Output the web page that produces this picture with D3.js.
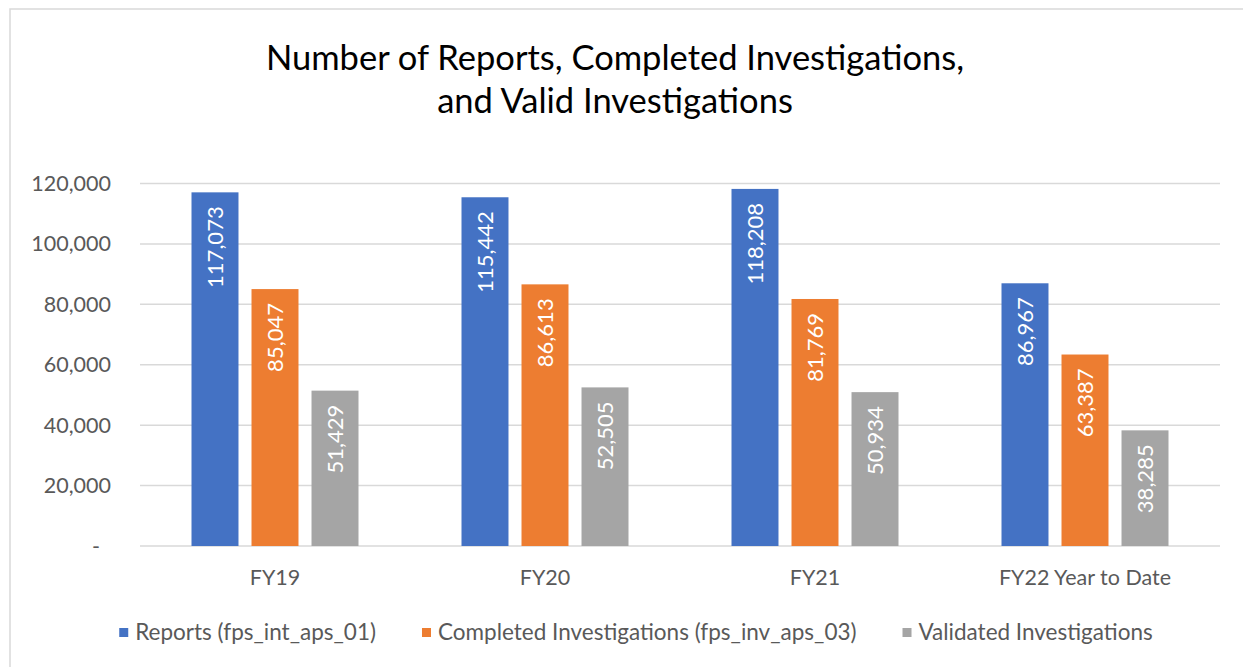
<!DOCTYPE html>
<html>
<head>
<meta charset="utf-8">
<script src="https://cdn.jsdelivr.net/npm/d3@7"></script>
<style>
  body { margin: 0; background: #fff; }
  text { font-family: Lato, "Open Sans", sans-serif; }
</style>
</head>
<body>
<script>
var categories = ["FY19", "FY20", "FY21", "FY22 Year to Date"];
var seriesNames = ["Reports (fps_int_aps_01)", "Completed Investigations (fps_inv_aps_03)", "Validated Investigations"];
var reports = [117073, 115442, 118208, 86967];
var completed = [85047, 86613, 81769, 63387];
var validated = [51429, 52505, 50934, 38285];
var yTicks = [0, 20000, 40000, 60000, 80000, 100000, 120000];
var colors = ["#4472C4", "#ED7D31", "#A5A5A5"];

var width = 1243, height = 667;
var plotLeft = 140, plotRight = 1220, plotTop = 183.5, plotBottom = 546;

var svg = d3.select("body").append("svg")
    .attr("width", width)
    .attr("height", height);

// chart border
svg.append("rect")
    .attr("x", 10).attr("y", 9)
    .attr("width", 1300).attr("height", 700)
    .attr("fill", "none")
    .attr("stroke", "#d9d9d9")
    .attr("stroke-width", 1.5);

// title
var title = svg.append("text")
    .attr("text-anchor", "middle")
    .attr("fill", "#000")
    .style("font-size", "34.5px");
title.append("tspan").attr("x", 615).attr("y", 70).text("Number of Reports, Completed Investigations,");
title.append("tspan").attr("x", 615).attr("y", 113).text("and Valid Investigations");

var x0 = d3.scaleBand().domain(categories).range([plotLeft, plotRight]);
var x1 = d3.scaleBand().domain(seriesNames)
    .range([51.5, x0.bandwidth() - 51.5])
    .paddingInner(0.217);
var y = d3.scaleLinear().domain([0, 120000]).range([plotBottom, plotTop]);

// gridlines
svg.append("g").selectAll("line")
    .data(yTicks)
    .enter().append("line")
    .attr("x1", plotLeft).attr("x2", plotRight)
    .attr("y1", function(d) { return y(d); })
    .attr("y2", function(d) { return y(d); })
    .attr("stroke", "#d9d9d9")
    .attr("stroke-width", 1.5);

// y labels
var fmt = d3.format(",");
svg.append("g").selectAll("text")
    .data(yTicks)
    .enter().append("text")
    .attr("x", function(d) { return d === 0 ? 100 : 111; })
    .attr("y", function(d) { return y(d); })
    .attr("dy", "0.35em")
    .attr("text-anchor", "end")
    .attr("fill", "#595959")
    .style("font-size", "21.5px")
    .text(function(d) { return d === 0 ? "-" : fmt(d); });

// x labels
svg.append("g").selectAll("text")
    .data(categories)
    .enter().append("text")
    .attr("x", function(d) { return x0(d) + x0.bandwidth() / 2; })
    .attr("y", 585)
    .attr("text-anchor", "middle")
    .attr("fill", "#595959")
    .style("font-size", "21.5px")
    .text(function(d) { return d; });

var allSeries = [reports, completed, validated];
var bars = [];
categories.forEach(function(c, i) {
    seriesNames.forEach(function(s, j) {
        bars.push({ cat: c, series: s, idx: j, value: allSeries[j][i] });
    });
});

svg.append("g").selectAll("rect")
    .data(bars)
    .enter().append("rect")
    .attr("x", function(d) { return x0(d.cat) + x1(d.series); })
    .attr("y", function(d) { return y(d.value); })
    .attr("width", x1.bandwidth())
    .attr("height", function(d) { return y(0) - y(d.value); })
    .attr("fill", function(d) { return colors[d.idx]; });

// data labels
svg.append("g").selectAll("text")
    .data(bars)
    .enter().append("text")
    .attr("transform", function(d) {
        var cx = x0(d.cat) + x1(d.series) + x1.bandwidth() / 2;
        return "translate(" + cx + "," + (y(d.value) + 14) + ") rotate(-90)";
    })
    .attr("text-anchor", "end")
    .attr("dy", "0.35em")
    .attr("fill", "#fff")
    .style("font-size", "22px")
    .text(function(d) { return fmt(d.value); });

// legend
var legend = svg.append("g");
var items = legend.selectAll("g")
    .data(seriesNames)
    .enter().append("g");
items.append("rect")
    .attr("width", 9).attr("height", 9)
    .attr("y", 628)
    .attr("fill", function(d, i) { return colors[i]; });
items.append("text")
    .attr("x", 16)
    .attr("y", 632)
    .attr("dy", "0.35em")
    .attr("fill", "#595959")
    .style("font-size", "22.5px")
    .text(function(d) { return d; });

var pos = 0, offsets = [];
items.each(function() {
    offsets.push(pos);
    pos += this.getBBox().width + 46;
});
var total = pos - 46;
var startX = 636 - total / 2;
items.attr("transform", function(d, i) { return "translate(" + (startX + offsets[i]) + ",0)"; });
</script>
</body>
</html>
